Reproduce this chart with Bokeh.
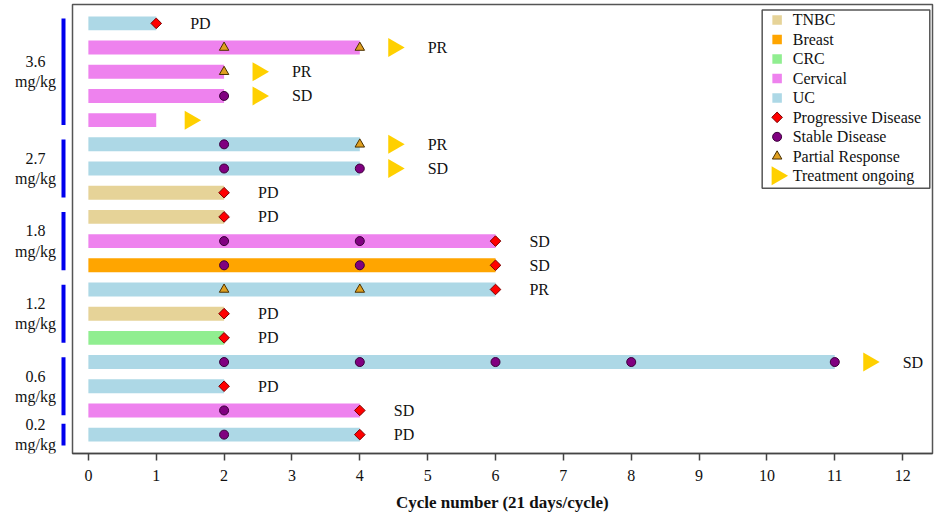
import math
from bokeh.plotting import figure
from bokeh.layouts import row
from bokeh.models import Range1d, FixedTicker, ColumnDataSource
from bokeh.core.properties import value
from bokeh.embed import file_html
from bokeh.resources import INLINE

# ---------------- data ----------------
rows = list(range(1, 19))  # 1 = top row
cancer = ["UC", "Cervical", "Cervical", "Cervical", "Cervical", "UC", "UC", "TNBC", "TNBC",
          "Cervical", "Breast", "UC", "TNBC", "CRC", "UC", "UC", "Cervical", "UC"]
duration = [1, 4, 2, 2, 1, 4, 4, 2, 2, 6, 6, 6, 2, 2, 11, 2, 4, 4]
ongoing = [False, True, True, True, True, True, True, False, False,
           False, False, False, False, False, True, False, False, False]
best_response = ["PD", "PR", "PR", "SD", "", "PR", "SD", "PD", "PD",
                 "SD", "SD", "PR", "PD", "PD", "SD", "PD", "SD", "PD"]

pd_row = [1, 8, 9, 10, 11, 12, 13, 14, 16, 17, 18]
pd_cycle = [1, 2, 2, 6, 6, 6, 2, 2, 2, 4, 4]
sd_row = [4, 6, 7, 7, 10, 10, 11, 11, 15, 15, 15, 15, 15, 17, 18]
sd_cycle = [2, 2, 2, 4, 2, 4, 2, 4, 2, 4, 6, 8, 11, 2, 2]
pr_row = [2, 2, 3, 6, 12, 12]
pr_cycle = [2, 4, 2, 4, 2, 4]

dose_labels = ["3.6\nmg/kg", "2.7\nmg/kg", "1.8\nmg/kg", "1.2\nmg/kg", "0.6\nmg/kg", "0.2\nmg/kg"]
dose_first_row = [1, 6, 9, 12, 15, 18]
dose_last_row = [5, 8, 11, 14, 17, 18]

cancer_types = ["TNBC", "Breast", "CRC", "Cervical", "UC"]
cancer_colors = ["#E6D398", "#FFA500", "#90EE90", "#EE82EE", "#ADD8E6"]
event_labels = ["Progressive Disease", "Stable Disease", "Partial Response", "Treatment ongoing"]
x_ticks = list(range(0, 13))

# ---------------- styles ----------------
FONT = "Liberation Serif"
TXT = "#111111"
H = 516
TOP, BOTTOM = 4, 63
PD_STYLE = dict(marker="square", size=7.5, angle=math.pi / 4,
                fill_color="#FF0000", line_color="#7A0000", line_width=1)
SD_STYLE = dict(marker="circle", size=9, fill_color="#800080", line_color="#3A003A", line_width=1)
PR_STYLE = dict(marker="triangle", size=9.5, fill_color="#E0A020", line_color="#4A3000", line_width=1)
ON_STYLE = dict(marker="triangle", size=19, angle=-math.pi / 2, fill_color="#FFD000", line_color=None)

y_range = Range1d(18.78, 0.22)

# ---------------- main figure ----------------
p = figure(width=863, height=H, output_backend="svg", toolbar_location=None,
           x_range=Range1d(-0.234, 12.44), y_range=y_range,
           min_border_left=1, min_border_right=2, min_border_top=TOP, min_border_bottom=BOTTOM)
p.xgrid.visible = False
p.ygrid.visible = False
p.yaxis.visible = False
p.outline_line_color = "#555555"
p.outline_line_width = 1.5

color_map = dict(zip(cancer_types, cancer_colors))
bar_src = ColumnDataSource(dict(y=rows, left=[0] * len(rows), right=duration,
                                color=[color_map[c] for c in cancer]))
p.hbar(y="y", left="left", right="right", height=0.575, source=bar_src,
       fill_color="color", line_color=None)

on_rows = [r for r, o in zip(rows, ongoing) if o]
on_x = [d + 0.5 for d, o in zip(duration, ongoing) if o]
p.scatter(x=on_x, y=on_rows, **ON_STYLE)
p.scatter(x=pd_cycle, y=pd_row, **PD_STYLE)
p.scatter(x=sd_cycle, y=sd_row, **SD_STYLE)
p.scatter(x=pr_cycle, y=pr_row, **PR_STYLE)

txt_x = [d + (1.0 if o else 0.5) for d, o in zip(duration, ongoing)]
p.text(x=txt_x, y=rows, text=best_response, text_align="left", text_baseline="middle",
       text_font=value(FONT), text_font_size="16px", text_color=TXT)

# ---------------- legend (drawn box) ----------------
LEG_LEFT, LEG_RIGHT, LEG_TOP, LEG_BOTTOM = 9.93, 12.40, 0.45, 7.82
LEG_Y0, LEG_DY = 0.86, 0.805
GLYPH_X, TEXT_X = 10.15, 10.38
p.quad(left=[LEG_LEFT], right=[LEG_RIGHT], top=[LEG_TOP], bottom=[LEG_BOTTOM],
       fill_color="white", line_color="#555555", line_width=1.5)
leg_labels = cancer_types + event_labels
leg_y = [LEG_Y0 + i * LEG_DY for i in range(len(leg_labels))]
n_ct = len(cancer_types)
p.scatter(x=[GLYPH_X] * n_ct, y=leg_y[:n_ct], marker="square", size=9.5,
          fill_color=cancer_colors, line_color=None)
for style, yy in zip([PD_STYLE, SD_STYLE, PR_STYLE, ON_STYLE], leg_y[n_ct:]):
    p.scatter(x=[GLYPH_X], y=[yy], **style)
p.text(x=[TEXT_X] * len(leg_labels), y=leg_y, text=leg_labels, text_align="left",
       text_baseline="middle", text_font=value(FONT), text_font_size="16px", text_color=TXT)

# x axis
ax = p.xaxis[0]
ax.ticker = FixedTicker(ticks=x_ticks)
ax.axis_label = "Cycle number (21 days/cycle)"
ax.axis_label_text_font = FONT
ax.axis_label_text_font_style = "bold"
ax.axis_label_text_font_size = "17px"
ax.axis_label_text_color = TXT
ax.axis_label_standoff = 9
ax.major_label_text_font = FONT
ax.major_label_text_font_size = "16px"
ax.major_label_text_color = TXT
ax.major_label_standoff = 9
ax.major_tick_in = 0
ax.major_tick_out = 7
ax.minor_tick_out = 0
ax.minor_tick_in = 0
ax.axis_line_color = "#444444"
ax.axis_line_width = 1.5
ax.major_tick_line_color = "#444444"
ax.major_tick_line_width = 1.5

# ---------------- dose-group panel ----------------
side = figure(width=71, height=H, output_backend="svg", toolbar_location=None,
              x_range=Range1d(0, 71), y_range=y_range,
              min_border_left=0, min_border_right=0, min_border_top=TOP, min_border_bottom=BOTTOM)
side.axis.visible = False
side.grid.visible = False
side.outline_line_color = None
pads = [0.45 if a == b else 0.2 for a, b in zip(dose_first_row, dose_last_row)]
side.segment(x0=[63] * len(dose_labels), x1=[63] * len(dose_labels),
             y0=[a - pd_ for a, pd_ in zip(dose_first_row, pads)],
             y1=[b + pd_ for b, pd_ in zip(dose_last_row, pads)],
             line_color="#0000EE", line_width=4)
side.text(x=[35] * len(dose_labels),
          y=[(a + b) / 2 for a, b in zip(dose_first_row, dose_last_row)],
          text=dose_labels, text_align="center", text_baseline="middle",
          text_font=value(FONT), text_font_size="16px", text_color=TXT, text_line_height=1.2)

layout = row(side, p)
open("out.html", "w").write(file_html(layout, INLINE))
